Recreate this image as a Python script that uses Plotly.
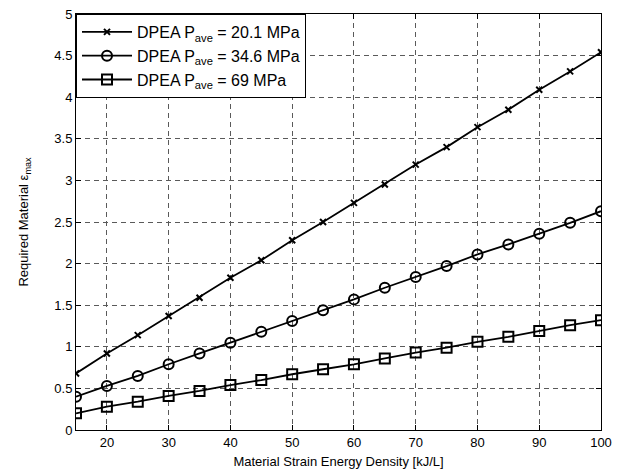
import plotly.graph_objects as go

x_vals = [15, 20, 25, 30, 35, 40, 45, 50, 55, 60, 65, 70, 75, 80, 85, 90, 95, 100]
p20_1 = [0.68, 0.92, 1.14, 1.37, 1.59, 1.83, 2.04, 2.28, 2.50, 2.73, 2.95, 3.19, 3.40, 3.64, 3.85, 4.09, 4.31, 4.54]
p34_6 = [0.40, 0.53, 0.65, 0.79, 0.92, 1.05, 1.18, 1.31, 1.44, 1.57, 1.71, 1.84, 1.97, 2.11, 2.23, 2.36, 2.49, 2.63]
p69 = [0.20, 0.28, 0.34, 0.41, 0.47, 0.54, 0.60, 0.67, 0.73, 0.79, 0.86, 0.93, 0.99, 1.06, 1.12, 1.19, 1.26, 1.32]

series_names = ["DPEA P<sub>ave</sub> = 20.1 MPa",
                "DPEA P<sub>ave</sub> = 34.6 MPa",
                "DPEA P<sub>ave</sub> = 69 MPa"]
x_ticks = [20, 30, 40, 50, 60, 70, 80, 90, 100]
y_ticks = [0, 0.5, 1, 1.5, 2, 2.5, 3, 3.5, 4, 4.5, 5]

FONT = "Liberation Sans, Arial"

fig = go.Figure()
fig.add_trace(go.Scatter(x=x_vals, y=p20_1, name=series_names[0], mode="lines+markers",
                         line=dict(color="black", width=1.8),
                         marker=dict(symbol="x-thin", size=6, color="black",
                                     line=dict(color="black", width=2))))
fig.add_trace(go.Scatter(x=x_vals, y=p34_6, name=series_names[1], mode="lines+markers",
                         line=dict(color="black", width=1.8),
                         marker=dict(symbol="circle-open", size=10, color="black",
                                     line=dict(color="black", width=2))))
fig.add_trace(go.Scatter(x=x_vals, y=p69, name=series_names[2], mode="lines+markers",
                         line=dict(color="black", width=1.8),
                         marker=dict(symbol="square-open", size=10, color="black",
                                     line=dict(color="black", width=2))))

axis_common = dict(showline=True, linecolor="black", linewidth=1, mirror="ticks",
                   ticks="inside", ticklen=5, tickcolor="black", automargin=False,
                   showgrid=True, gridcolor="#5a5a5a", gridwidth=1, griddash="5px,4px",
                   zeroline=False, tickfont=dict(family=FONT, size=13, color="black"))

fig.update_layout(
    width=630, height=473,
    margin=dict(l=76, r=29, t=14, b=43),
    paper_bgcolor="white", plot_bgcolor="white",
    font=dict(family=FONT, size=13, color="black"),
    xaxis=dict(range=[15, 100], tickvals=x_ticks,
               title=dict(text="Material Strain Energy Density [kJ/L]", standoff=8,
                          font=dict(size=13)), **axis_common),
    yaxis=dict(range=[0, 5], tickvals=y_ticks,
               title=dict(text="Required Material ε<sub>max</sub>", standoff=22,
                          font=dict(size=13)), **axis_common),
    legend=dict(x=0, y=1, xanchor="left", yanchor="top", bgcolor="white",
                bordercolor="black", borderwidth=1,
                font=dict(family=FONT, size=16, color="black"),
                itemwidth=50),
    showlegend=True,
)

fig.write_html("out.html", config={"displayModeBar": False},
               post_script="document.body.style.margin='0';")
